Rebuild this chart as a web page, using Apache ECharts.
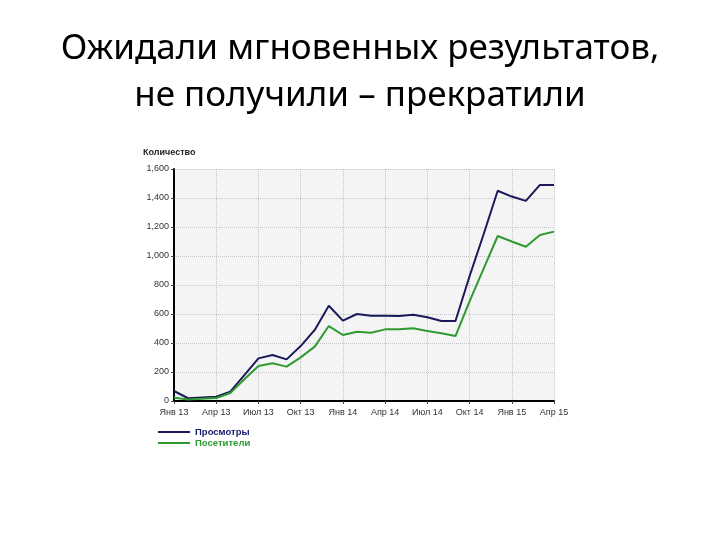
<!DOCTYPE html>
<html><head><meta charset="utf-8">
<script src="https://cdn.jsdelivr.net/npm/echarts@6/dist/echarts.min.js"></script>
<style>html,body{margin:0;padding:0;background:#fff}#c{width:720px;height:540px}</style>
</head><body><div id="c"></div>
<script>
const months = ['Янв 13','Фев 13','Мар 13','Апр 13','Май 13','Июн 13','Июл 13','Авг 13','Сен 13','Окт 13','Ноя 13','Дек 13',
                'Янв 14','Фев 14','Мар 14','Апр 14','Май 14','Июн 14','Июл 14','Авг 14','Сен 14','Окт 14','Ноя 14','Дек 14',
                'Янв 15','Фев 15','Мар 15','Апр 15'];
const views    = [69,19,25,30,64,179,294,317,287,379,490,657,554,600,588,588,586,595,577,552,552,860,1150,1450,1410,1380,1490,1490];
const visitors = [22,10,15,20,55,150,241,260,237,301,375,517,455,478,471,494,494,501,483,467,448,687,913,1138,1100,1064,1145,1168];
const seriesNames = ['Просмотры','Посетители'];
const titleText = 'Ожидали мгновенных результатов,\nне получили – прекратили';
const yAxisTitle = 'Количество';

const chart = echarts.init(document.getElementById('c'));
chart.setOption({
  animation:false,
  backgroundColor:'#fff',
  title:[
    {text:titleText, left:'center', top:21,
     textStyle:{fontFamily:'Noto Sans', fontSize:35, fontWeight:'normal', color:'#000', lineHeight:47}},
    {text:yAxisTitle, left:138, top:143,
     textStyle:{fontFamily:'Liberation Sans', fontSize:9, fontWeight:'bold', color:'#222'}}
  ],
  grid:{left:174, right:166, top:169, bottom:139, show:true, backgroundColor:'#f4f4f4', borderWidth:0},
  legend:{
    orient:'vertical', left:153, top:422, itemGap:1, itemWidth:32, itemHeight:2, icon:'rect',
    textStyle:{fontFamily:'Liberation Sans', fontSize:9.5, fontWeight:'bold', padding:[0,0,0,0]},
    data:[{name:seriesNames[0], textStyle:{color:'#1a1a6e'}},{name:seriesNames[1], textStyle:{color:'#2e9a2e'}}]
  },
  xAxis:{
    type:'category', data:months, boundaryGap:false,
    axisLine:{lineStyle:{color:'#000', width:2}},
    axisTick:{interval:2, length:3, lineStyle:{color:'#444'}},
    axisLabel:{interval:2, color:'#333', fontFamily:'Liberation Sans', fontSize:9, margin:7},
    splitLine:{show:true, interval:2, lineStyle:{color:'#c4c4c4', type:'dotted'}}
  },
  yAxis:{
    type:'value', min:0, max:1600, interval:200,
    axisLine:{show:true, lineStyle:{color:'#000', width:2}},
    axisTick:{show:true, length:3, lineStyle:{color:'#444'}},
    axisLabel:{color:'#333', fontFamily:'Liberation Sans', fontSize:9, margin:5,
      formatter:v=>v.toLocaleString('en-US')},
    splitLine:{show:true, lineStyle:{color:'#c4c4c4', type:'dotted'}}
  },
  series:[
    {name:seriesNames[0], type:'line', data:views, showSymbol:false, symbol:'none',
     lineStyle:{color:'#1a1a5a', width:2}, itemStyle:{color:'#1a1a5a'}},
    {name:seriesNames[1], type:'line', data:visitors, showSymbol:false, symbol:'none',
     lineStyle:{color:'#2f9a2f', width:2}, itemStyle:{color:'#2f9a2f'}}
  ]
});
</script></body></html>
